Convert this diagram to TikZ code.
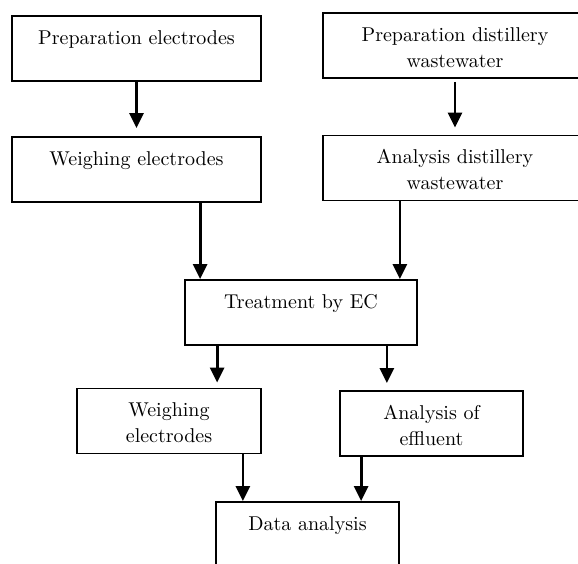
\documentclass[tikz,border=0pt]{standalone}
\usepackage{tikz}
\usetikzlibrary{arrows.meta, positioning, calc}
\tikzset{
  stepBox/.style = {draw, line width=0.9pt, align=center, inner ysep=0pt,
    text height=14pt, text depth=18.5pt, font=\fontsize{10}{13}\selectfont},
  twoLine/.style = {text height=27pt, text depth=5.5pt},
  flowArrow/.style = {-{Triangle[width=7pt,length=7.5pt]}, line width=1.4pt}
}

\begin{document}
\begin{tikzpicture}[x=0.5pt, y=-0.5pt]
  \useasboundingbox (0,0) rectangle (578,563);

  % first row
  \node[stepBox, minimum width=124.5pt] (prepElec) at (136.5,48.5) {Preparation electrodes};
  \node[stepBox, twoLine, minimum width=132pt] (prepWater) at (455,45.5) {Preparation distillery\\wastewater};

  % second row
  \node[stepBox, minimum width=124.5pt] (weighElec) at (136.5,169.5) {Weighing electrodes};
  \node[stepBox, twoLine, minimum width=132pt] (anaWater) at (455,168) {Analysis distillery\\wastewater};

  % treatment
  \node[stepBox, minimum width=116pt] (treatEC) at (301,312.5) {Treatment by EC};

  % after treatment
  \node[stepBox, twoLine, minimum width=92pt]   (weighAfter) at (169,421) {Weighing\\electrodes};
  \node[stepBox, twoLine, minimum width=91.5pt] (anaEffl) at (431.5,423.5) {Analysis of\\effluent};

  % last step
  \node[stepBox, minimum width=91.5pt] (dataAna) at (307.5,534.5) {Data analysis};

  \draw[flowArrow, shorten >=4pt] (prepElec) -- (weighElec);
  \draw[flowArrow, shorten <=1.5pt, shorten >=3.5pt] (prepWater) -- (anaWater);

  \draw[flowArrow] ([xshift=8pt]treatEC.north west |- weighElec.south) -- ([xshift=8pt]treatEC.north west);
  \draw[flowArrow] ([xshift=-9pt]treatEC.north east |- anaWater.south) -- ([xshift=-9pt]treatEC.north east);

  \draw[flowArrow, shorten >=2.5pt] ([xshift=16.5pt]treatEC.south west) -- ([xshift=16.5pt]treatEC.south west |- weighAfter.north);
  \draw[flowArrow, shorten >=3.5pt] ([xshift=-15.5pt]treatEC.south east) -- ([xshift=-15.5pt]treatEC.south east |- anaEffl.north);

  \draw[flowArrow] ([xshift=-9.5pt]weighAfter.south east) -- ([xshift=-9.5pt]weighAfter.south east |- dataAna.north);
  \draw[flowArrow] ([xshift=11pt]anaEffl.south west) -- ([xshift=11pt]anaEffl.south west |- dataAna.north);
\end{tikzpicture}
\end{document}
